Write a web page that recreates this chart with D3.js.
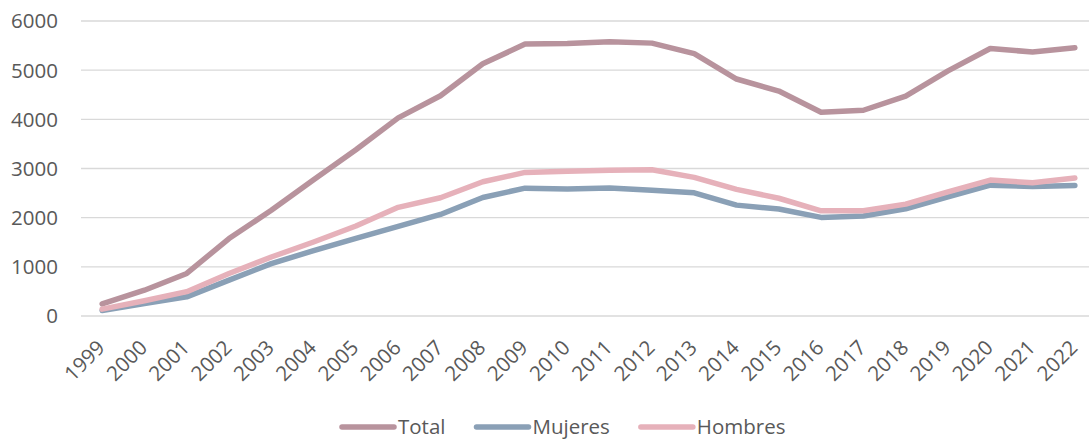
<!DOCTYPE html>
<html>
<head>
<meta charset="utf-8">
<script src="https://cdn.jsdelivr.net/npm/d3@7"></script>
<style>
  body { margin: 0; background: #fff; }
  svg text { font-family: "Open Sans", sans-serif; fill: #595959; }
</style>
</head>
<body>
<svg id="chart" width="1089" height="440"></svg>
<script>
let years = ['1999', '2000', '2001', '2002', '2003', '2004', '2005', '2006', '2007', '2008', '2009', '2010',
             '2011', '2012', '2013', '2014', '2015', '2016', '2017', '2018', '2019', '2020', '2021', '2022']

let total   = [245, 525, 865, 1575, 2150, 2770, 3380, 4030, 4480, 5130, 5530, 5540,
               5580, 5550, 5335, 4820, 4575, 4145, 4185, 4470, 4985, 5440, 5370, 5455]
let mujeres = [110, 255, 390, 730, 1065, 1330, 1580, 1825, 2065, 2410, 2600, 2585,
               2605, 2560, 2505, 2255, 2175, 2005, 2035, 2180, 2425, 2660, 2635, 2655]
let hombres = [140, 310, 495, 865, 1200, 1505, 1830, 2210, 2405, 2730, 2920, 2945,
               2965, 2975, 2820, 2575, 2395, 2140, 2140, 2275, 2525, 2765, 2710, 2805]

let seriesNames = ['Total', 'Mujeres', 'Hombres']
let seriesColors = ['#b8939d', '#8aa0b6', '#e6b1ba']
let yTicks = [0, 1000, 2000, 3000, 4000, 5000, 6000]

let svg = d3.select('#chart')

let xScale = d3.scalePoint()
                .domain(years)
                .range([81, 1096])
                .padding(0.5)

let yScale = d3.scaleLinear()
                .domain([0, 6000])
                .range([316, 21])

// gridlines
svg.append('g')
    .selectAll('line')
    .data(yTicks)
    .enter()
    .append('line')
    .attr('x1', 81)
    .attr('x2', 1096)
    .attr('y1', (d) => yScale(d))
    .attr('y2', (d) => yScale(d))
    .attr('stroke', '#d9d9d9')
    .attr('stroke-width', 1.3)

// y labels
svg.append('g')
    .selectAll('text')
    .data(yTicks)
    .enter()
    .append('text')
    .attr('x', 58)
    .attr('y', (d) => yScale(d))
    .attr('dy', '0.36em')
    .attr('text-anchor', 'end')
    .style('font-size', '20.5px')
    .text((d) => d)

// x labels
svg.append('g')
    .selectAll('text')
    .data(years)
    .enter()
    .append('text')
    .attr('transform', (d) => 'translate(' + (xScale(d) + 4) + ', 349) rotate(-45)')
    .attr('text-anchor', 'end')
    .style('font-size', '20.5px')
    .text((d) => d)

let allSeries = [total, mujeres, hombres]

let line = d3.line()
                .x((d, i) => xScale(years[i]))
                .y((d) => yScale(d))

svg.append('g')
    .selectAll('path')
    .data(allSeries)
    .enter()
    .append('path')
    .attr('d', (d) => line(d))
    .attr('fill', 'none')
    .attr('stroke', (d, i) => seriesColors[i])
    .attr('stroke-width', 5.5)
    .attr('stroke-linejoin', 'round')
    .attr('stroke-linecap', 'round')

// legend
let legend = svg.append('g')
let legendX = 340
seriesNames.forEach((name, i) => {
    legend.append('line')
            .attr('x1', legendX + 2)
            .attr('x2', legendX + 54)
            .attr('y1', 427)
            .attr('y2', 427)
            .attr('stroke', seriesColors[i])
            .attr('stroke-width', 5.5)
            .attr('stroke-linecap', 'round')
    let label = legend.append('text')
            .attr('x', legendX + 58)
            .attr('y', 434)
            .style('font-size', '20.5px')
            .text(name)
    legendX = legendX + 58 + label.node().getComputedTextLength() + 29
})
</script>
</body>
</html>
